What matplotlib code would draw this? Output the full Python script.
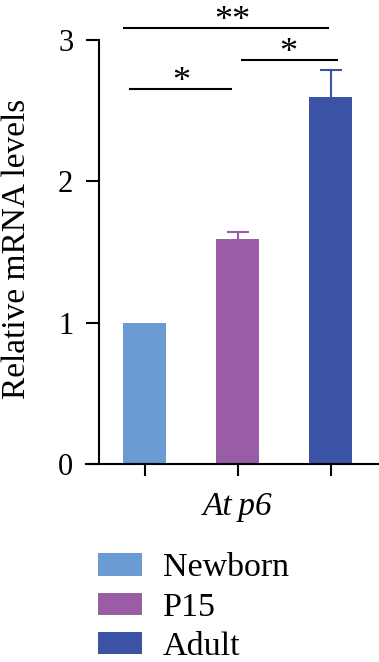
import matplotlib
matplotlib.use("Agg")
import matplotlib.pyplot as plt
from matplotlib.patches import Patch

plt.rcParams['font.family'] = ['Liberation Serif', 'DejaVu Serif']

groups = ["Newborn", "P15", "Adult"]
values = [1.0, 1.59, 2.60]
errors = [0.0, 0.055, 0.19]
colors = ["#6A9BD3", "#9B5CA6", "#3A53A4"]
gene = "Atp6"
yticks = [0, 1, 2, 3]
# significance brackets: start group pos, end group pos, height, label
sig_start = [-0.23, -0.17, 1.04]
sig_end = [1.98, 0.94, 2.08]
sig_y = [3.085, 2.653, 2.859]
sig_labels = ["**", "*", "*"]
sig_label_x = [0.94, 0.40, 1.55]

W, H = 379, 662
fig = plt.figure(figsize=(W / 100, H / 100), dpi=100)
ax = fig.add_axes([86 / W, (H - 464) / H, (W - 86) / W, (464 - 40) / H])

x = [0, 1, 2]
ax.bar(x, values, width=0.46, color=colors, zorder=2)
for xi, v, e, c in zip(x, values, errors, colors):
    if e > 0:
        cont = ax.errorbar(xi, v, yerr=[[0], [e]], fmt='none', ecolor=c, elinewidth=1.5,
                           capsize=8, capthick=1.5, zorder=1)
        cont[1][0].set_visible(False)

ax.set_xlim(-0.629, 2.52)
ax.set_ylim(0, 3)
ax.spines['top'].set_visible(False)
ax.spines['right'].set_visible(False)
ax.spines['left'].set_position(('data', -0.489))
for s in ['left', 'bottom']:
    ax.spines[s].set_linewidth(1.5)
ax.set_yticks(yticks)
ax.set_yticklabels([str(t) for t in yticks], fontsize=22)
ax.set_xticks(x)
ax.set_xticklabels([])
ax.tick_params(axis='y', length=9.5, width=1.5, pad=9)
ax.tick_params(axis='x', length=8.6, width=1.5)
ax.set_ylabel("Relative mRNA levels", fontsize=24)
ax.yaxis.set_label_coords(-0.184, 0.507)
ax.text(1.0, -0.30, "At\u2009p6", fontsize=24, style='italic', ha='center', va='center',
        transform=ax.transData)

for x0, x1, y, lab, lx in zip(sig_start, sig_end, sig_y, sig_labels, sig_label_x):
    ax.plot([x0, x1], [y, y], color='black', lw=1.5, clip_on=False, solid_capstyle='butt')
    ax.text(lx, y - 0.015, lab, fontsize=26, ha='center', va='baseline', clip_on=False)

handles = [Patch(facecolor=c, edgecolor='none') for c in colors]
ax.legend(handles, groups, loc='upper left', bbox_to_anchor=(98 / W, (H - 553) / H),
          bbox_transform=fig.transFigure, frameon=False, fontsize=24.5,
          handlelength=1.29, handleheight=0.62, handletextpad=0.62, labelspacing=0.26,
          borderpad=0, borderaxespad=0)

fig.savefig("out.png", dpi=100)
